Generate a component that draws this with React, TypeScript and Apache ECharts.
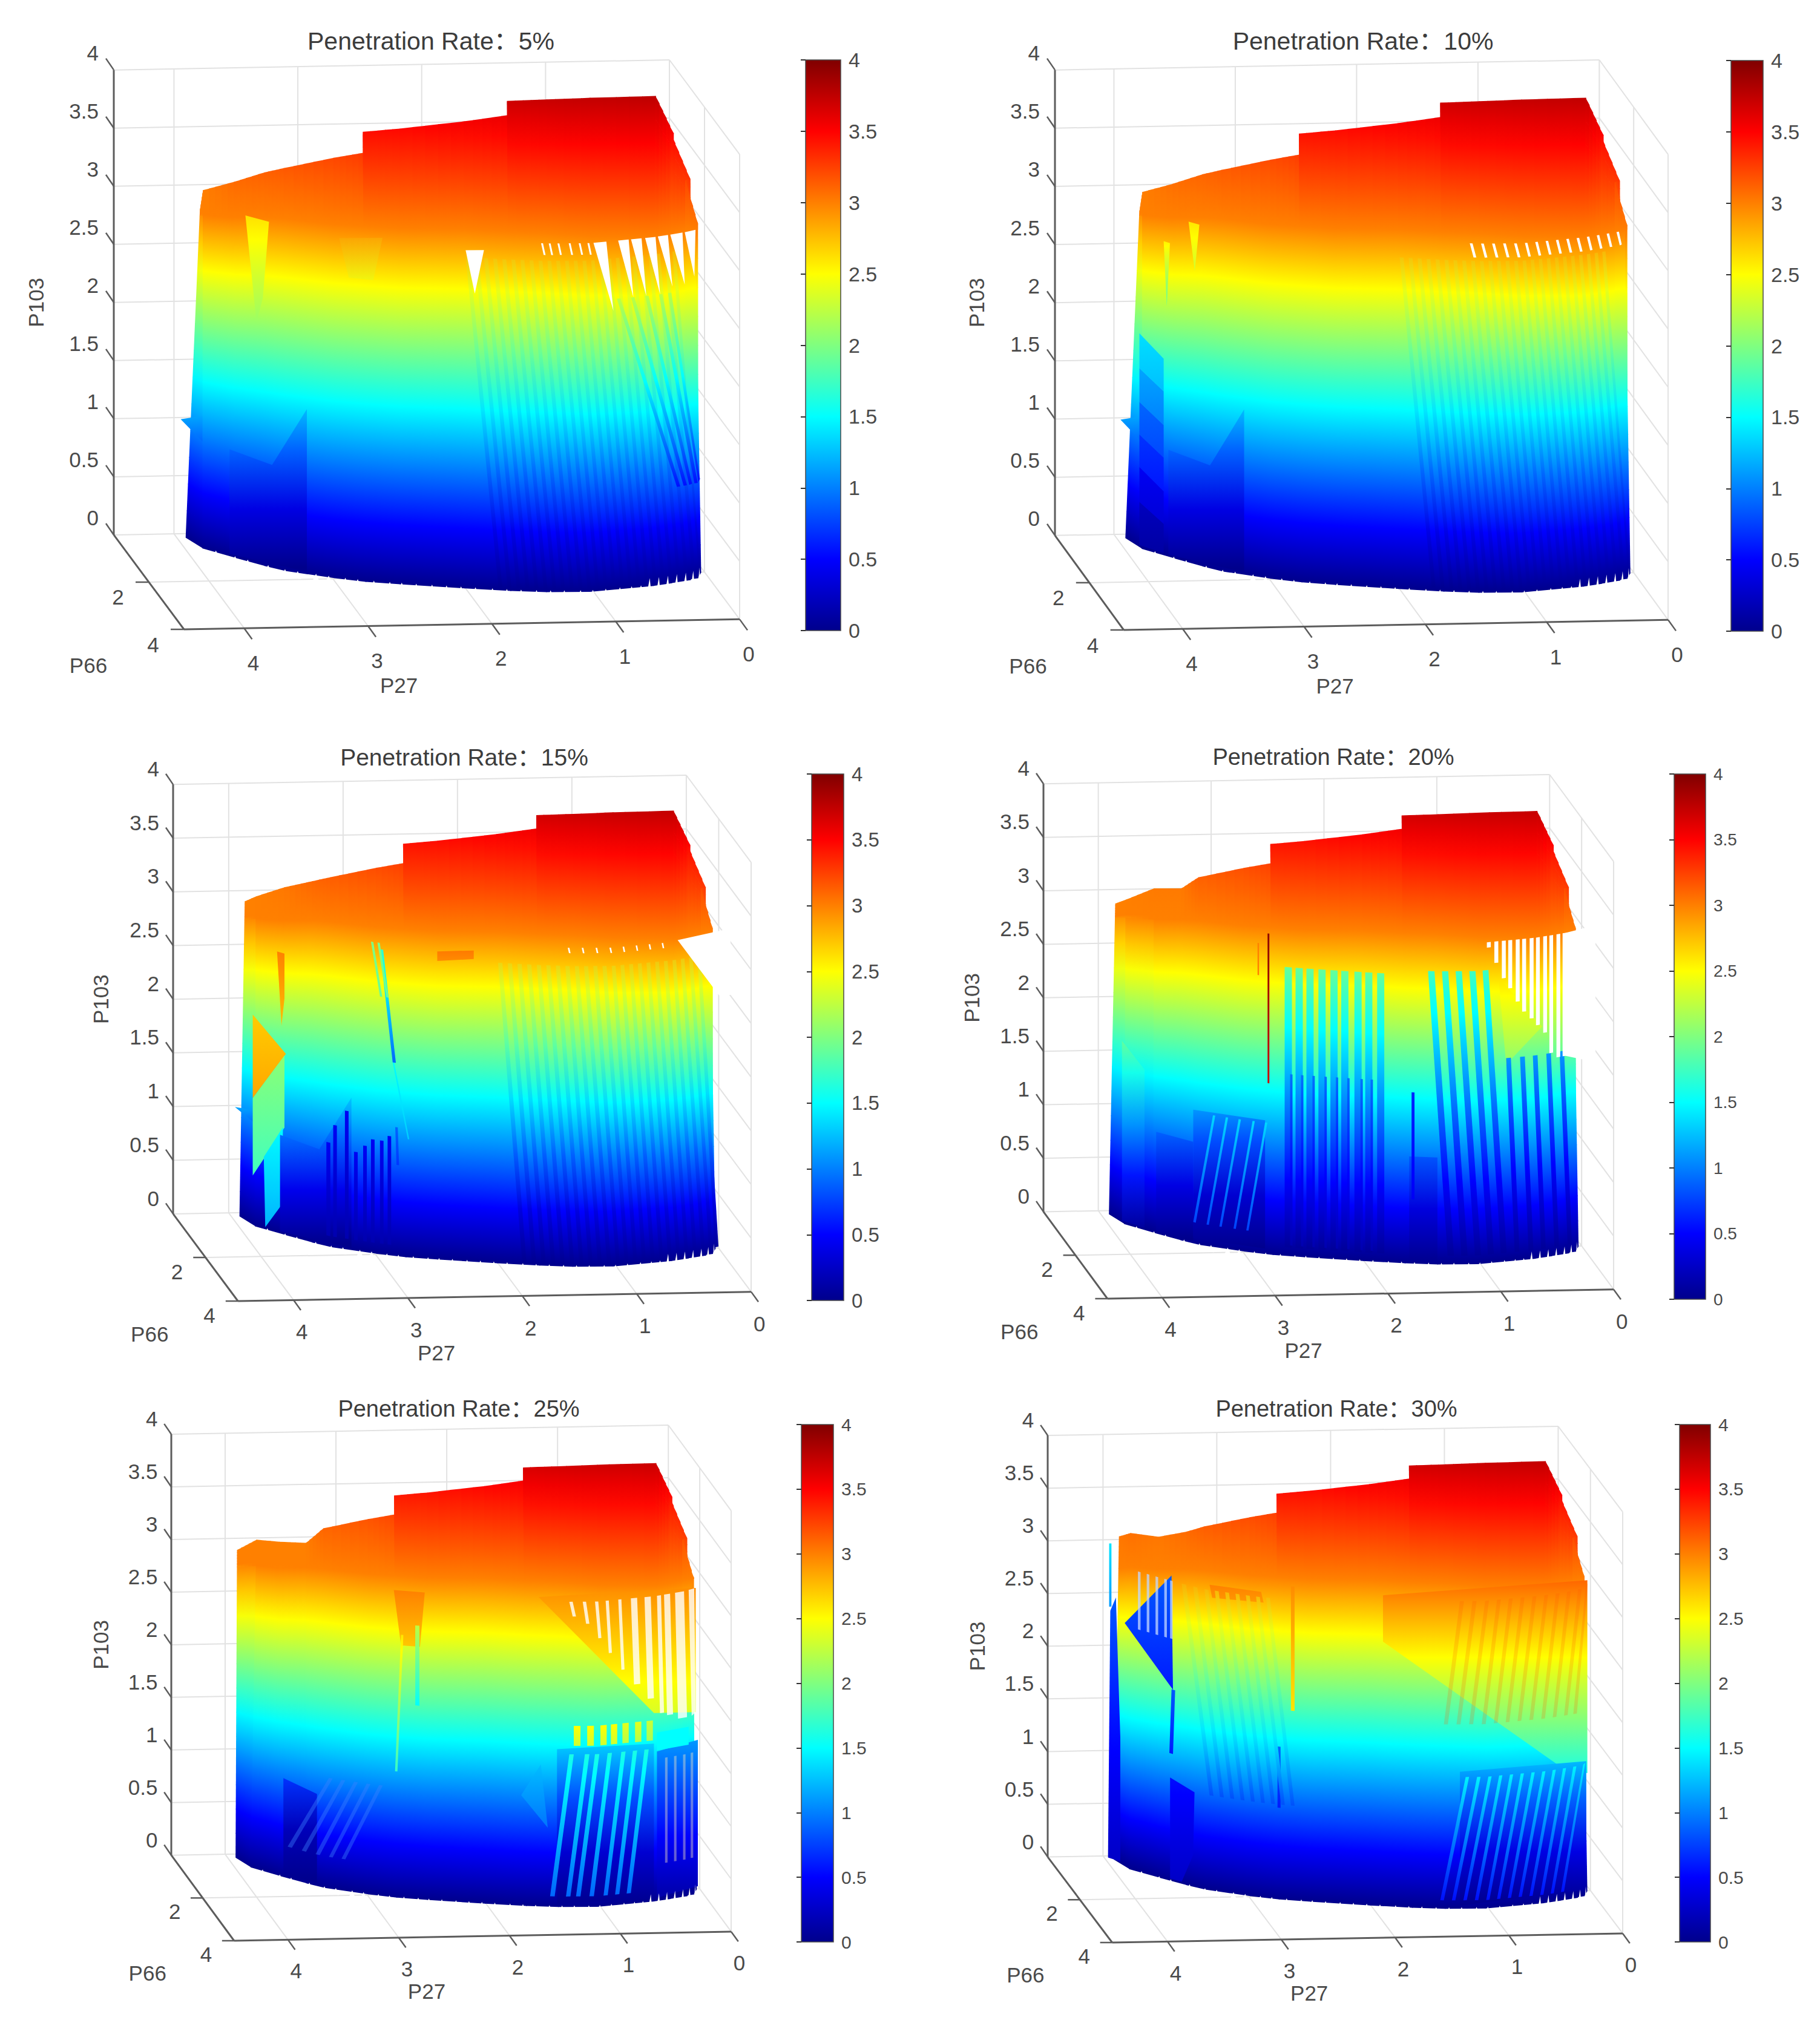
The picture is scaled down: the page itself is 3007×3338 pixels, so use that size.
import React, { useEffect, useRef } from "react";
import * as echarts from "echarts";

const FONT = "'Liberation Sans','Noto Sans CJK SC',sans-serif";

// ---------- colour scale of the colour bar: [P103 value, colour] ----------
const jetStops: [number, number[]][] = [
  [0, [0, 0, 140]], [0.5, [0, 0, 255]], [1.5, [0, 255, 255]], [2.5, [255, 255, 0]], [3.5, [255, 0, 0]], [4, [128, 0, 0]],
];

// ---------- axis ticks ----------
const p103Ticks = [0, 0.5, 1, 1.5, 2, 2.5, 3, 3.5, 4];
const p27Ticks = [0, 1, 2, 3, 4];
const p66Ticks = [2, 4];
const P27_MAX = 4.486;
const P66_MAX = 4;

// ---------- panel titles ----------
const rates = ["5%", "10%", "15%", "20%", "25%", "30%"];

// ---------- surface hull: foot of each column, then the head of that column ----------
const hullP27 = [3.93, 3.86, 3.66, 3.47, 3.34, 2.99, 2.76, 2.755, 2.5, 2.01, 1.66, 1.655, 1.38, 1.03, 0.49, 0.33, 0.335, 0.16, 0.2, 0.09, 0.03];
const hullP66 = [0.17, 0.63, 1.04, 1.41, 1.63, 1.97, 2.15, 2.15, 2.28, 2.5, 2.64, 2.64, 2.72, 2.74, 2.54, 2.44, 2.44, 2.32, 2.32, 2.25, 2.02];
const hullStretch = [0.92, 0.955, 0.975, 1.0, 1.01, 1.015, 1.02, 1.02, 1.02, 1.03, 1.03, 1.03, 1.03, 1.02, 1.0, 1.0, 1.0, 1.0, 1.0, 1.0, 1.0];
const headP27 = [3.83, 3.8, 3.56, 3.29, 3.13, 2.72, 2.48, 2.49, 2.19, 1.68, 1.3, 1.33, 1.02, 0.68, 0.16, 0.06, 0.07, 0.06, 0.05, 0.09, 0.14];
const headP66 = [0.28, 0.23, 0.3, 0.12, 0.1, 0.05, 0.14, 0.1, 0.09, 0.13, 0.13, 0.13, 0.2, 0.26, 0.33, 0.64, 0.59, 1.59, 1.25, 2.23, 2.48];
const headP103 = [2.85, 3.0, 3.08, 3.12, 3.15, 3.22, 3.28, 3.45, 3.47, 3.53, 3.58, 3.7, 3.72, 3.74, 3.76, 3.5, 3.48, 3.3, 3.22, 3.05, 2.97];

// per-panel replacements of the first heads: [P27, P66, P103]
const headsP3 = [[3.86, 0.0, 2.92], [3.79, 0.18, 3.0], [3.52, 0.03, 3.05]];
const headsP4 = [[3.85, 0.0, 2.9], [3.77, 0.08, 2.95], [3.52, 0.08, 3.05], [3.28, 0.1, 3.05]];
const headsP5 = [[3.9, 0.05, 2.95], [3.73, 0.08, 3.05], [3.52, 0.05, 3.02], [3.31, 0.27, 3.05]];
const headsP6 = [[3.86, 0.0, 3.05], [3.76, 0.0, 3.08], [3.52, 0.05, 3.05], [3.28, 0.08, 3.1]];

// ---------- bottom edge roughness, shared ----------
const notchP27 = [0.55, 0.47, 0.39, 0.31, 0.23, 0.16, 0.09];
const roughP27 = [3.8, 3.68, 3.6, 3.47, 3.36, 3.27, 3.14, 3.05, 2.93, 2.84, 2.72, 2.6, 2.51, 2.4, 2.28, 2.17, 2.06, 1.95, 1.82, 1.71, 1.6, 1.48, 1.37, 1.26, 1.13, 1.03, 0.92, 0.8, 0.7, 0.62];
const bumpPatch = { v: [[3.97, 1.02], [3.86, 1.14], [3.86, 0.92]], c: [1.15, 0.9] };

// ---------- per-panel surface defects. v = [P27, P103]; c = colour values top/bottom; shift = colour offset ----------
const hatchP27 = [2.0, 1.93, 1.86, 1.79, 1.72, 1.65, 1.58, 1.51, 1.44, 1.37, 1.3, 1.23, 1.16, 1.09, 1.02, 0.95, 0.88, 0.81, 0.74, 0.67, 0.6, 0.53, 0.46, 0.39, 0.32];
const hatchRight = { p: hatchP27, dp: -0.25, zTop: 2.85, zBot: 0.03, w: 0.03, shift: -0.09 };

const p1Patches = [
  bumpPatch,
  { v: [[3.59, 2.97], [3.44, 2.97], [3.48, 2.3], [3.52, 2.08]], c: [2.62, 2.1] },
  { v: [[3.69, 0.92], [3.42, 0.885], [3.18, 1.42], [3.18, 0.02], [3.69, 0.02]], shift: -0.12 },
  { v: [[2.95, 2.93], [2.63, 2.97], [2.7, 2.6], [2.88, 2.6]], shift: -0.06 },
];
const p1Streaks = [
  hatchRight,
  { p: [0.8, 0.68, 0.56, 0.44, 0.36], dp: [-0.52, -0.46, -0.39, -0.32, -0.28], zTop: 2.5, zBot: 0.82, w: 0.03, c: [2.25, 0.55] },
  { p: [1.42, 1.36, 1.29, 1.2, 1.12, 1.05], dp: -0.02, zTop: 3.0, zBot: 2.9, w: 0.015, color: "#ffffff" },
];
const p1Gaps = [
  [[2.0, 2.91], [1.86, 2.92], [1.93, 2.54]],
  [[1.0, 3.0], [0.89, 3.0], [0.83, 2.4]],
  [[0.79, 3.0], [0.7, 3.0], [0.66, 2.5]],
  [[0.68, 3.0], [0.59, 3.0], [0.55, 2.5]],
  [[0.56, 3.0], [0.47, 3.0], [0.43, 2.5]],
  [[0.45, 3.0], [0.36, 3.0], [0.32, 2.55]],
  [[0.34, 3.0], [0.23, 3.0], [0.21, 2.55]],
  [[0.21, 3.0], [0.11, 3.0], [0.12, 2.6]],
];

const p2Patches = [
  bumpPatch,
  { v: [[3.72, 2.7], [3.68, 2.7], [3.7, 2.15]], c: [2.55, 1.85] },
  { v: [[3.56, 2.93], [3.49, 2.93], [3.52, 2.52]], c: [2.6, 2.3] },
  { v: [[3.69, 0.92], [3.42, 0.885], [3.18, 1.42], [3.18, 0.02], [3.69, 0.02]], shift: -0.12 },
  { v: [[3.87, 1.84], [3.72, 1.69], [3.72, 1.41], [3.87, 1.54]], c: [1.38, 1.25] },
  { v: [[3.87, 1.54], [3.72, 1.41], [3.72, 1.12], [3.87, 1.25]], c: [1.15, 1.0] },
  { v: [[3.87, 1.25], [3.72, 1.12], [3.72, 0.84], [3.87, 0.97]], c: [0.9, 0.78] },
  { v: [[3.87, 0.97], [3.72, 0.84], [3.72, 0.55], [3.87, 0.69]], c: [0.7, 0.58] },
  { v: [[3.87, 0.69], [3.72, 0.55], [3.72, 0.27], [3.87, 0.39]], c: [0.45, 0.32] },
  { v: [[3.87, 0.39], [3.72, 0.27], [3.72, 0.02], [3.87, 0.02]], c: [0.22, 0.1] },
];
const p2Streaks = [
  hatchRight,
  { p: [1.45, 1.36, 1.27, 1.18, 1.09, 1.0, 0.91, 0.82, 0.73, 0.64, 0.55, 0.46, 0.37, 0.28, 0.19], dp: -0.03, zTop: 3.0, zBot: 2.88, w: 0.022, color: "#ffffff" },
];

const p3Patches = [
  { v: [[3.97, 1.02], [3.86, 1.08], [3.86, 0.96]], c: [1.15, 0.9] },
  { v: [[3.87, 1.96], [3.65, 1.69], [3.87, 1.18]], c: [2.7, 2.85] },
  { v: [[3.87, 1.18], [3.66, 1.67], [3.66, 1.0], [3.87, 0.46]], c: [2.05, 1.75] },
  { v: [[3.8, 0.67], [3.67, 1.0], [3.68, 0.27], [3.79, 0.02]], c: [1.5, 1.2] },
  { v: [[3.71, 2.62], [3.66, 2.62], [3.66, 2.2], [3.68, 1.94]], c: [3.0, 2.75] },
  { v: [[2.5, 2.87], [2.2, 2.9], [2.2, 2.82], [2.5, 2.78]], c: [3.02, 2.95] },
  { v: [[3.69, 0.92], [3.42, 0.885], [3.18, 1.42], [3.18, 0.02], [3.69, 0.02]], shift: -0.08 },
];
const p3Streaks = [
  { p: [2.0, 1.92, 1.84, 1.76, 1.68, 1.6, 1.52, 1.44, 1.36, 1.28, 1.2, 1.12, 1.04, 0.96, 0.88, 0.8, 0.72, 0.64, 0.56, 0.48, 0.4, 0.32, 0.24], dp: -0.2, zTop: 2.8, zBot: 0.02, w: 0.035, shift: -0.13 },
  { p: [2.96], dp: -0.1, zTop: 2.84, zBot: 1.8, w: 0.025, c: [1.7, 0.9] },
  { p: [2.86], dp: -0.12, zTop: 1.8, zBot: 1.1, w: 0.012, c: [1.5, 1.3] },
  { p: [2.84], dp: -0.01, zTop: 1.2, zBot: 0.85, w: 0.02, c: [0.9, 0.7] },
  { p: [3.03, 2.98], dp: -0.07, zTop: 2.9, zBot: 2.4, w: 0.018, c: [2.0, 1.9] },
  { p: [3.37, 3.32, 3.23, 3.16, 3.09, 3.03, 2.96, 2.9], dp: 0, zTop: [0.97, 1.14, 1.29, 0.92, 0.99, 1.06, 1.06, 1.11], zBot: 0.1, w: 0.028, c: [0.45, 0.15] },
  { p: [1.42, 1.3, 1.18, 1.06, 0.94, 0.82, 0.7, 0.58], dp: -0.01, zTop: 2.97, zBot: 2.92, w: 0.014, color: "#ffffff" },
];
const p3Gaps = [[[0.43, 2.98], [-0.1, 2.98], [-0.1, 2.36], [0.0, 2.36]]];

const p4Patches = [
  { v: [[3.64, 0.95], [3.38, 0.95], [3.38, 0.02], [3.64, 0.02]], shift: -0.12 },
  { v: [[3.87, 1.7], [3.72, 1.5], [3.72, 0.02], [3.87, 0.02]], shift: 0.08 },
  { v: [[3.38, 1.25], [2.82, 1.25], [2.82, 0.05], [3.38, 0.05]], shift: -0.2 },
  { v: [[1.62, 1.0], [1.38, 1.0], [1.38, 0.03], [1.62, 0.03]], shift: -0.15 },
  { v: [[0.83, 2.66], [0.42, 2.16], [0.76, 1.84]], c: [2.62, 2.05] },
];
const p4Streaks = [
  { p: [2.66, 2.57, 2.48, 2.38, 2.28, 2.19, 2.08, 1.99, 1.89], dp: 0, zTop: 2.7, zBot: 0.08, w: 0.06, c: [1.9, 0.05] },
  { p: [2.615, 2.525, 2.43, 2.33, 2.235, 2.14, 2.03, 1.945], dp: 0, zTop: 1.7, zBot: 0.1, w: 0.02, c: [0.95, 0.15] },
  { p: [1.46, 1.34, 1.22, 1.1, 0.98], dp: -0.17, zTop: 2.74, zBot: 0.08, w: 0.055, c: [1.75, 0.05] },
  { p: [0.76, 0.63, 0.51, 0.38, 0.25], dp: -0.08, zTop: 1.9, zBot: 0.08, w: 0.045, c: [1.1, 0.05] },
  { p: [1.6], dp: 0, zTop: 1.6, zBot: 0.6, w: 0.025, c: [0.65, 0.45] },
  { p: [3.23, 3.13, 3.03, 2.92, 2.82], dp: 0.15, zTop: 1.23, zBot: 0.2, w: 0.018, c: [1.35, 0.75] },
  { p: [2.8], dp: 0, zTop: 3.0, zBot: 1.6, w: 0.014, c: [3.95, 3.7] },
  { p: [2.88], dp: 0, zTop: 2.9, zBot: 2.6, w: 0.012, c: [3.0, 3.0] },
  { p: [0.94, 0.87, 0.8, 0.74, 0.67, 0.61, 0.54, 0.48, 0.41, 0.35, 0.28, 0.22], dp: 0, zTop: 3.0, zBot: [2.95, 2.8, 2.65, 2.55, 2.42, 2.32, 2.25, 2.18, 2.1, 1.9, 1.85, 1.85], w: 0.037, color: "#ffffff" },
];
const p4Gaps = [[[0.19, 3.0], [-0.12, 3.0], [-0.12, 1.72], [0.19, 1.85]]];

const p5Patches = [
  { v: [[3.63, 0.94], [3.39, 0.875], [3.39, 0.03], [3.63, 0.03]], shift: -0.3 },
  { v: [[2.78, 2.92], [2.52, 2.92], [2.56, 2.4], [2.72, 2.4]], c: [3.0, 2.72] },
  { v: [[1.39, 1.5], [0.49, 1.5], [0.49, 0.03], [1.39, 0.03]], shift: -0.2 },
  { v: [[0.46, 1.42], [0.02, 1.42], [0.02, 0.03], [0.46, 0.03]], c: [1.1, 0.12] },
  { v: [[1.55, 2.94], [0.05, 2.88], [0.05, 1.7], [0.49, 1.79]], c: [2.95, 2.35] },
  { v: [[0.46, 1.6], [0.14, 1.6], [0.14, 1.43], [0.46, 1.43]], c: [1.5, 1.5] },
  { v: [[1.7, 1.05], [1.53, 1.35], [1.47, 0.75]], c: [1.25, 0.95] },
  { v: [[1.24, 1.72], [1.18, 1.72], [1.18, 1.53], [1.24, 1.53]], c: [2.5, 2.3] },
  { v: [[1.12, 1.72], [1.06, 1.72], [1.06, 1.53], [1.12, 1.53]], c: [2.5, 2.3] },
  { v: [[1.0, 1.72], [0.94, 1.72], [0.94, 1.53], [1.0, 1.53]], c: [2.5, 2.3] },
  { v: [[0.9, 1.72], [0.84, 1.72], [0.84, 1.53], [0.9, 1.53]], c: [2.5, 2.3] },
  { v: [[0.79, 1.72], [0.73, 1.72], [0.73, 1.53], [0.79, 1.53]], c: [2.4, 2.2] },
  { v: [[0.67, 1.72], [0.61, 1.72], [0.61, 1.53], [0.67, 1.53]], c: [2.4, 2.2] },
  { v: [[0.56, 1.72], [0.5, 1.72], [0.5, 1.53], [0.56, 1.53]], c: [2.3, 2.15] },
];
const p5Streaks = [
  { p: [3.3, 3.2, 3.1, 3.0, 2.9], dp: 0.3, zTop: 1.05, zBot: 0.3, w: 0.03, color: "rgba(60,130,255,0.4)" },
  { p: [2.6], dp: 0, zTop: 2.6, zBot: 1.84, w: 0.035, c: [2.25, 1.5] },
  { p: [2.72], dp: 0.05, zTop: 2.5, zBot: 1.2, w: 0.02, c: [2.6, 1.7] },
  { p: [1.28, 1.14, 1.05, 0.93, 0.8, 0.69, 0.58], dp: 0.17, zTop: 1.45, zBot: 0.1, w: 0.04, c: [1.6, 0.9] },
  { p: [1.28, 1.16, 1.05, 0.95, 0.83, 0.71, 0.58, 0.46, 0.39, 0.28, 0.14], dp: -0.03, zTop: 2.9, zBot: [2.76, 2.69, 2.55, 2.4, 2.23, 2.08, 1.93, 1.78, 1.75, 1.7, 1.7], w: [0.03, 0.03, 0.03, 0.03, 0.03, 0.06, 0.06, 0.04, 0.06, 0.09, 0.06], color: "rgba(255,255,255,0.8)" },
  { p: [0.38, 0.29, 0.2, 0.12], dp: 0, zTop: 1.35, zBot: 0.35, w: 0.025, color: "rgba(255,235,190,0.4)" },
];

const p6Patches = [
  { v: [[3.96, 2.36], [3.92, 2.5], [3.9, 1.2], [3.9, 0.02], [3.98, 0.02]], c: [0.85, 0.25] },
  { v: [[3.88, 2.31], [3.57, 2.9], [3.56, 1.82]], c: [0.85, 0.6] },
  { v: [[3.58, 0.98], [3.41, 0.9], [3.42, 0.3], [3.5, 0.02], [3.58, 0.02]], c: [0.55, 0.25] },
  { v: [[3.3, 2.9], [2.9, 2.9], [2.88, 2.8], [3.28, 2.78]], c: [3.0, 2.9] },
  { v: [[1.9, 2.51], [0.3, 1.25], [0.03, 1.12], [0.03, 2.95], [1.9, 2.95]], c: [3.1, 1.6] },
  { v: [[1.25, 1.3], [0.05, 1.25], [0.05, 0.03], [1.25, 0.03]], shift: -0.12 },
];
const p6Streaks = [
  { p: [3.97], dp: 0, zTop: 3.0, zBot: 2.4, w: 0.02, c: [1.4, 1.1] },
  { p: [3.8, 3.74, 3.68, 3.62, 3.58], dp: 0, zTop: 2.85, zBot: 2.3, w: 0.018, color: "rgba(195,215,255,0.75)" },
  { p: [3.57], dp: 0.015, zTop: 1.82, zBot: 1.21, w: 0.025, c: [0.85, 0.6] },
  { p: [2.66], dp: 0, zTop: 2.98, zBot: 1.8, w: 0.03, c: [2.95, 2.6] },
  { p: [2.77], dp: 0, zTop: 1.45, zBot: 0.87, w: 0.025, c: [0.9, 0.6] },
  { p: [3.5, 3.42, 3.34, 3.26, 3.18, 3.1, 3.02, 2.94, 2.86], dp: -0.2, zTop: 2.85, zBot: 0.9, w: 0.03, shift: -0.08 },
  { p: [1.25, 1.14, 1.03, 0.92, 0.81, 0.7, 0.59, 0.48, 0.37, 0.26, 0.15, 0.06], dp: 0.14, zTop: 2.92, zBot: 1.75, w: 0.035, color: "rgba(255,90,0,0.2)" },
  { p: [1.2, 1.1, 1.0, 0.9, 0.8, 0.7, 0.6, 0.5, 0.4, 0.3, 0.2, 0.1], dp: 0.22, zTop: 1.25, zBot: 0.08, w: 0.03, c: [1.45, 0.55] },
];

// ---------- layout of each panel in page pixels ----------
const panelBoxes = [
  { l: 188, r: 1222, t: 99, b: 1040, cb: [1331, 1389, 99, 1042], cbFont: 34, tc: [707, 63], tf: 41 },
  { l: 1743, r: 2756, t: 99, b: 1041, cb: [2860, 2913, 100, 1043], cbFont: 34, tc: [2247, 63], tf: 41 },
  { l: 286, r: 1241, t: 1281, b: 2150, cb: [1341, 1394, 1279, 2149], cbFont: 33, tc: [762, 1246], tf: 39 },
  { l: 1724, r: 2666, t: 1280, b: 2146, cb: [2766, 2818, 1279, 2147], cbFont: 28, tc: [2198, 1246], tf: 38 },
  { l: 283, r: 1208, t: 2355, b: 3207, cb: [1324, 1377, 2354, 3209], cbFont: 30, tc: [753, 2323], tf: 38 },
  { l: 1731, r: 2681, t: 2357, b: 3210, cb: [2775, 2826, 2354, 3209], cbFont: 30, tc: [2203, 2323], tf: 38 },
];
const panelFeatures: any[] = [
  { patches: p1Patches, streaks: p1Streaks, gaps: p1Gaps, heads: [], drop: 0 },
  { patches: p2Patches, streaks: p2Streaks, gaps: [], heads: [], drop: 0.015 },
  { patches: p3Patches, streaks: p3Streaks, gaps: p3Gaps, heads: headsP3, drop: 0.02 },
  { patches: p4Patches, streaks: p4Streaks, gaps: p4Gaps, heads: headsP4, drop: 0.03 },
  { patches: p5Patches, streaks: p5Streaks, gaps: [], heads: headsP5, drop: 0.05 },
  { patches: p6Patches, streaks: p6Streaks, gaps: [], heads: headsP6, drop: 0.02 },
];

// ---------- projection of the MATLAB camera, as plain axis coordinates ----------
const view = (p27: number, p66: number, z: number): number[] => [-p27 + 0.1417 * p66, z - 0.2031 * p66 - 0.0193 * p27];
const VX: [number, number] = [-P27_MAX, 0.1417 * P66_MAX];
const VY: [number, number] = [-0.2031 * P66_MAX - 0.0193 * P27_MAX, 4];

function lookup(arr: number[], p27: number): number {
  if (p27 >= hullP27[0]) return arr[0];
  for (let i = 0; i < hullP27.length - 1; i++) {
    const a = hullP27[i], b = hullP27[i + 1];
    if (p27 <= a && p27 >= b && a !== b) return arr[i] + ((a - p27) / (a - b)) * (arr[i + 1] - arr[i]);
  }
  return arr[arr.length - 1];
}
const onSurface = (p27: number, z: number) => view(p27, lookup(hullP66, p27), z);

function jetArr(z: number): number[] {
  if (z <= jetStops[0][0]) return jetStops[0][1];
  for (let i = 0; i < jetStops.length - 1; i++) {
    const [a, ca] = jetStops[i];
    const [b, cb] = jetStops[i + 1];
    if (z <= b) {
      const t = (z - a) / (b - a);
      return ca.map((c, k) => Math.round(c + t * (cb[k] - c)));
    }
  }
  return jetStops[jetStops.length - 1][1];
}
const jet = (z: number) => `rgb(${jetArr(z).join(",")})`;

// gradient stops running through the colour scale between two values
function rangeStops(c0: number, c1: number) {
  const inner = jetStops.map((s) => s[0]).filter((z) => z > Math.min(c0, c1) && z < Math.max(c0, c1));
  const list = [c0, c1, ...inner];
  return list
    .map((z) => ({ offset: c0 === c1 ? (z === c0 ? 0 : 1) : (z - c0) / (c1 - c0), color: jet(z) }))
    .sort((a, b) => a.offset - b.offset);
}

const LOW_BANDS = 12;
const HIGH_BANDS = 6;
const HIGH_SLICES = 5;

function buildShapes(idx: number) {
  const f = panelFeatures[idx];
  const shapes: any[] = [];
  for (let i = 0; i < hullP27.length - 1; i++) {
    for (let e = 0; e < LOW_BANDS; e++) shapes.push({ kind: "cell", i, e, s0: 0, s1: 1 });
    for (let e = LOW_BANDS; e < LOW_BANDS + HIGH_BANDS; e++) {
      for (let k = 0; k < HIGH_SLICES; k++) shapes.push({ kind: "cell", i, e, s0: k / HIGH_SLICES, s1: (k + 1) / HIGH_SLICES });
    }
  }
  f.patches.forEach((p: any) =>
    shapes.push({ kind: p.shift !== undefined ? "shift" : "patch", pts: p.v.map((q: number[]) => onSurface(q[0], q[1])), c: p.c, shift: p.shift, mean: p.v.reduce((s: number, q: number[]) => s + q[0], 0) / p.v.length }),
  );
  f.streaks.forEach((g: any) =>
    g.p.forEach((p: number, k: number) => {
      const w = Array.isArray(g.w) ? g.w[k] : g.w;
      const zb = Array.isArray(g.zBot) ? g.zBot[k] : g.zBot;
      const zt = Array.isArray(g.zTop) ? g.zTop[k] : g.zTop;
      const dp = Array.isArray(g.dp) ? g.dp[k] : g.dp;
      shapes.push({
        kind: g.color ? "flat" : g.shift !== undefined ? "shift" : "patch",
        color: g.color,
        c: g.c,
        shift: g.shift,
        mean: p + dp / 2,
        pts: [onSurface(p, zt), onSurface(p - w, zt), onSurface(p + dp - w, zb), onSurface(p + dp, zb)],
      });
    }),
  );
  f.gaps.forEach((g: number[][]) => shapes.push({ kind: "flat", color: "#ffffff", pts: g.map((q) => onSurface(q[0], q[1])) }));
  notchP27.forEach((p) => shapes.push({ kind: "flat", color: "#ffffff", pts: [onSurface(p, -0.09), onSurface(p - 0.045, -0.09), onSurface(p - 0.03, 0.07)] }));
  roughP27.forEach((p) => shapes.push({ kind: "flat", color: "#ffffff", pts: [onSurface(p, -0.05), onSurface(p - 0.05, -0.05), onSurface(p - 0.025, 0.015)] }));
  return shapes;
}

function buildTable(api: any, idx: number) {
  const f = panelFeatures[idx];
  const unit = api.coord([0, 0])[1] - api.coord([0, 1])[1];
  return hullP27.map((_, j) => {
    const h = f.heads[j];
    const hp27 = h ? h[0] : headP27[j];
    const hp66 = h ? h[1] : headP66[j];
    const zt = (h ? h[2] : headP103[j]) - f.drop;
    const foot = api.coord(view(hullP27[j], hullP66[j], 0));
    const head = api.coord(view(hp27, hp66, zt));
    const H = foot[1] - head[1];
    const h3 = Math.min(3 * unit * hullStretch[j], H * 0.999);
    const rows: { x: number; y: number; z: number }[] = [];
    for (let e = 0; e <= LOW_BANDS + HIGH_BANDS; e++) {
      let hh: number, z: number;
      if (e <= LOW_BANDS) {
        hh = (e / LOW_BANDS) * h3;
        z = (e / LOW_BANDS) * Math.min(3, zt + 0.02);
      } else {
        const t = (e - LOW_BANDS) / HIGH_BANDS;
        hh = h3 + t * (H - h3);
        z = 3 + t * Math.max(0, zt - 3);
      }
      const t = hh / H;
      rows.push({ x: foot[0] + (head[0] - foot[0]) * t, y: foot[1] + (head[1] - foot[1]) * t, z });
    }
    return rows;
  });
}

const mix = (p: any, q: any, t: number) => ({ x: p.x + (q.x - p.x) * t, y: p.y + (q.y - p.y) * t, z: p.z + (q.z - p.z) * t });

function renderMarks(shapes: any[], idx: number) {
  let table: any[] | null = null;
  return (params: any, api: any) => {
    const s = shapes[params.dataIndex];
    if (s.kind === "cell") {
      if (!table) table = buildTable(api, idx);
      const a = table[s.i], b = table[s.i + 1];
      const e = s.e;
      const la = mix(a[e], b[e], s.s0), lb = mix(a[e], b[e], s.s1);
      const ha = mix(a[e + 1], b[e + 1], s.s0), hb = mix(a[e + 1], b[e + 1], s.s1);
      const zLow = (la.z + lb.z) / 2;
      const zHigh = (ha.z + hb.z) / 2;
      const slope = (p: any, q: any) => (Math.abs(q.x - p.x) < 2 ? 0 : (q.y - p.y) / (q.x - p.x));
      const m = Math.max(-1, Math.min(1, (slope(la, lb) + slope(ha, hb)) / 2));
      const Ml = [(la.x + lb.x) / 2, (la.y + lb.y) / 2];
      const Mh = [(ha.x + hb.x) / 2, (ha.y + hb.y) / 2];
      const Hb = Math.max(0.5, Ml[1] + m * (Mh[0] - Ml[0]) - Mh[1]);
      const w2 = 1 + m * m;
      const fill = new (echarts.graphic as any).LinearGradient(Ml[0], Ml[1], Ml[0] + (m * Hb) / w2, Ml[1] - Hb / w2, [{ offset: 0, color: jet(zLow) }, { offset: 1, color: jet(zHigh) }], true);
      // slight overlap up and to the right so no seams show between neighbouring cells
      const grow = e === LOW_BANDS + HIGH_BANDS - 1 ? 0 : 1;
      const last = s.i === hullP27.length - 2 && s.s1 === 1;
      const dx = lb.x >= la.x && !last ? 1 : 0;
      const points = [[la.x, la.y], [lb.x + dx, lb.y], [hb.x + dx, hb.y - grow], [ha.x, ha.y - grow]];
      return { type: "polygon", shape: { points }, style: { fill } };
    }
    const points = s.pts.map((q: number[]) => api.coord(q));
    if (s.kind === "flat") return { type: "polygon", shape: { points }, style: { fill: s.color } };
    if (s.kind === "patch") {
      const fill = new (echarts.graphic as any).LinearGradient(0, 0, 0, 1, rangeStops(s.c[0], s.c[1]));
      return { type: "polygon", shape: { points }, style: { fill } };
    }
    const unit = (api.coord([0, 0])[1] - api.coord([0, 1])[1]) * lookup(hullStretch, s.mean);
    const base = api.coord(onSurface(s.mean, 0));
    const stops = [0, 0.5, 1, 1.5, 2, 2.5, 3].map((z) => ({ offset: z / 3, color: jet(Math.max(0, z + s.shift)) }));
    const fill = new (echarts.graphic as any).LinearGradient(base[0], base[1], base[0], base[1] - 3 * unit, stops, true);
    return { type: "polygon", shape: { points }, style: { fill } };
  };
}

function renderFrame(box: any) {
  return (_: any, api: any) => {
    const s = (box.b - box.t) / 941;
    const GRID = "#e2e2e2";
    const AXIS = "#5c5c5c";
    const TXT = "#4a4a4a";
    const FS = 35;
    const children: any[] = [];
    const seg = (a: number[], b: number[], stroke: string, lineWidth: number) => {
      const p = api.coord(view(a[0], a[1], a[2]));
      const q = api.coord(view(b[0], b[1], b[2]));
      children.push({ type: "line", shape: { x1: p[0], y1: p[1], x2: q[0], y2: q[1] }, style: { stroke, lineWidth } });
    };
    const label = (text: string, x: number, y: number, rotation = 0, align = "center") =>
      children.push({ type: "text", x, y, rotation, style: { text, fontSize: FS, fontFamily: FONT, fill: TXT, align, verticalAlign: "middle" } });
    p27Ticks.filter((k) => k > 0).forEach((k) => {
      seg([k, 0, 0], [k, 0, 4], GRID, 2);
      seg([k, 0, 0], [k, P66_MAX, 0], GRID, 2);
    });
    p103Ticks.filter((z) => z > 0).forEach((z) => {
      seg([P27_MAX, 0, z], [0, 0, z], GRID, 2);
      seg([0, 0, z], [0, P66_MAX, z], GRID, 2);
    });
    seg([P27_MAX, 0, 0], [0, 0, 0], GRID, 2);
    seg([0, 0, 0], [0, 0, 4], GRID, 2);
    seg([0, 2, 0], [0, 2, 4], GRID, 2);
    seg([0, 0, 0], [0, P66_MAX, 0], GRID, 2);
    seg([0, P66_MAX, 0], [0, P66_MAX, 4], GRID, 2);
    seg([P27_MAX, 2, 0], [0, 2, 0], GRID, 2);
    seg([P27_MAX, 0, 0], [P27_MAX, 0, 4], AXIS, 3);
    seg([P27_MAX, 0, 0], [P27_MAX, P66_MAX, 0], AXIS, 3);
    seg([P27_MAX, P66_MAX, 0], [0, P66_MAX, 0], AXIS, 3);
    const tick = (p: number[], dx: number, dy: number) => children.push({ type: "line", shape: { x1: p[0], y1: p[1], x2: p[0] + dx * s, y2: p[1] + dy * s }, style: { stroke: AXIS, lineWidth: 2.5 } });
    p103Ticks.forEach((z) => {
      const p = api.coord(view(P27_MAX, 0, z));
      tick(p, -13, -19);
      label(String(z), p[0] - 25 * s, p[1] - 28 * s, 0, "right");
    });
    p27Ticks.forEach((k) => {
      const p = api.coord(view(k, P66_MAX, 0));
      tick(p, 13, 18);
      label(String(k), p[0] + 15 * s, p[1] + 57 * s);
    });
    p66Ticks.forEach((k) => {
      const p = api.coord(view(P27_MAX, k, 0));
      tick(p, -22, 0);
      label(String(k), p[0] - 51 * s, p[1] + 25 * s);
    });
    const axisLeft = api.coord(view(P27_MAX, 0, 2));
    label("P103", axisLeft[0] - 129 * s, axisLeft[1], Math.PI / 2);
    const front = api.coord(view(P27_MAX, P66_MAX, 0));
    label("P66", front[0] - 158 * s, front[1] + 59 * s);
    const p3 = api.coord(view(3, P66_MAX, 0));
    label("P27", p3[0] + 51 * s, p3[1] + 98 * s);
    return { type: "group", children };
  };
}

function renderBar(_: any, api: any) {
  const a = api.coord([0, 4]);
  const b = api.coord([1, 0]);
  const stops = jetStops.map((st) => ({ offset: 1 - st[0] / 4, color: jet(st[0]) })).reverse();
  const fill = new (echarts.graphic as any).LinearGradient(0, 0, 0, 1, stops);
  return { type: "rect", shape: { x: a[0], y: a[1], width: b[0] - a[0], height: b[1] - a[1] }, style: { fill, stroke: "#4a4a4a", lineWidth: 1.5 } };
}

export default function App() {
  const ref = useRef<HTMLDivElement>(null);
  useEffect(() => {
    const chart = echarts.init(ref.current!, undefined, { renderer: "svg" });
    const grid: any[] = [], xAxis: any[] = [], yAxis: any[] = [], series: any[] = [], title: any[] = [];
    panelBoxes.forEach((box, i) => {
      title.push({
        text: `Penetration Rate：${rates[i]}`,
        left: box.tc[0],
        top: box.tc[1],
        textAlign: "center",
        textVerticalAlign: "middle",
        textStyle: { fontFamily: FONT, fontWeight: "normal", fontSize: box.tf, color: "#3c3c3c" },
      });
      grid.push({ left: box.l, top: box.t, width: box.r - box.l, height: box.b - box.t });
      xAxis.push({ type: "value", gridIndex: i, min: VX[0], max: VX[1], show: false });
      yAxis.push({ type: "value", gridIndex: i, min: VY[0], max: VY[1], show: false });
      series.push({ type: "custom", xAxisIndex: i, yAxisIndex: i, clip: false, silent: true, z: 1, data: [[0, 0]], renderItem: renderFrame(box) });
      const shapes = buildShapes(i);
      series.push({ type: "custom", xAxisIndex: i, yAxisIndex: i, clip: false, silent: true, z: 2, progressive: 0, data: shapes.map((_, k) => [k, 0]), encode: { x: 0, y: 1 }, renderItem: renderMarks(shapes, i) });
    });
    panelBoxes.forEach((box, i) => {
      const g = grid.length;
      const [l, r, t, b] = box.cb;
      grid.push({ left: l, top: t, width: r - l, height: b - t });
      xAxis.push({ type: "value", gridIndex: g, min: 0, max: 1, show: false });
      yAxis.push({
        type: "value", gridIndex: g, min: 0, max: 4, interval: 0.5, position: "right", z: 5,
        splitLine: { show: false },
        axisLine: { show: false },
        axisTick: { show: true, inside: true, length: 8, lineStyle: { color: "#333", width: 2 } },
        axisLabel: { margin: 13, fontFamily: FONT, fontSize: box.cbFont, color: "#4a4a4a" },
      });
      series.push({ type: "custom", xAxisIndex: g, yAxisIndex: g, clip: false, silent: true, z: 2, data: [[0, 0]], renderItem: renderBar });
    });
    chart.setOption({ animation: false, backgroundColor: "#ffffff", title, grid, xAxis, yAxis, series });
    return () => chart.dispose();
  }, []);
  return <div ref={ref} style={{ position: "absolute", left: 0, top: 0, width: 3007, height: 3338 }} />;
}
